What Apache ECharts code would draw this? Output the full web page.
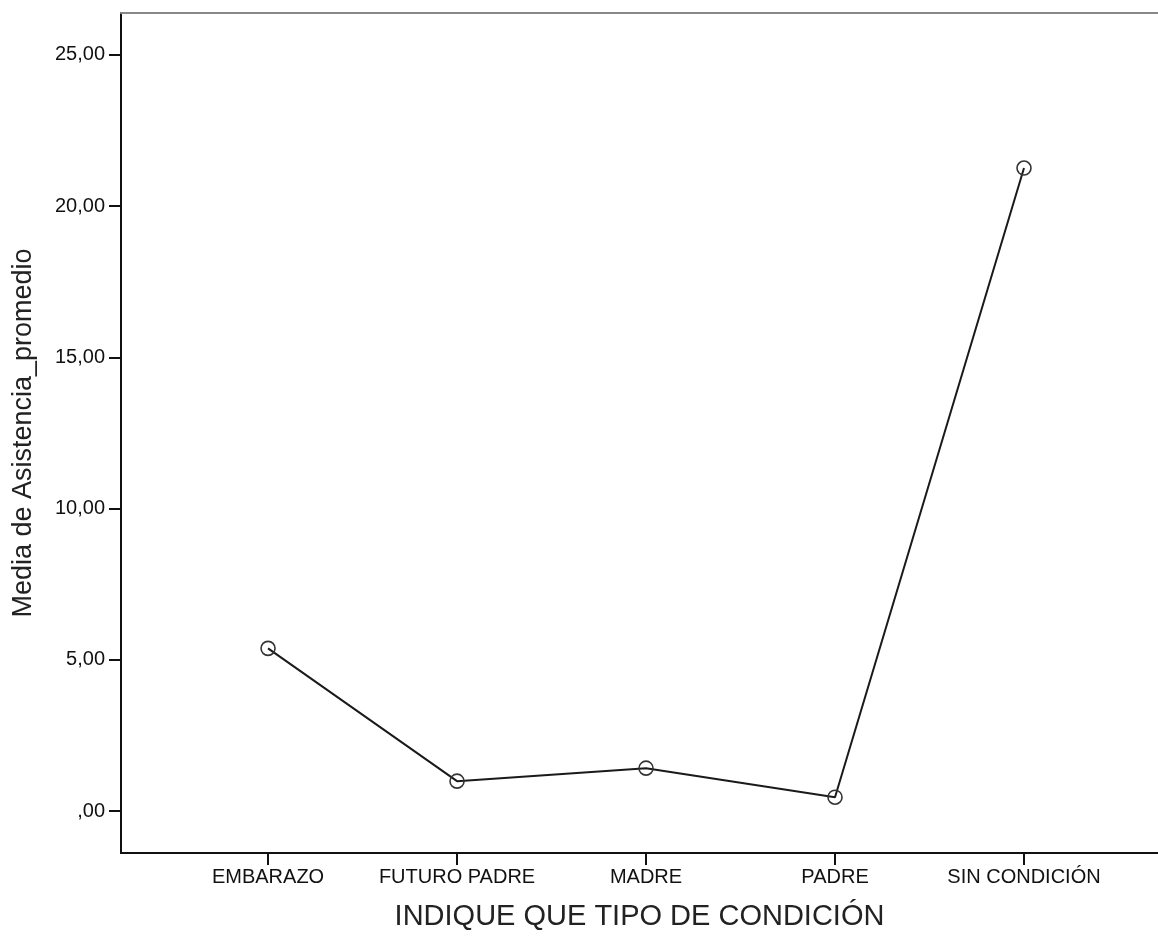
<!DOCTYPE html>
<html>
<head>
<meta charset="utf-8">
<script src="https://cdn.jsdelivr.net/npm/echarts@6/dist/echarts.min.js"></script>
<style>
html,body{margin:0;padding:0;background:#fff;}
#chart{width:1158px;height:936px;}
</style>
</head>
<body>
<div id="chart"></div>
<script>
const categories = ['EMBARAZO', 'FUTURO PADRE', 'MADRE', 'PADRE', 'SIN CONDICIÓN'];
const values = [5.38, 0.99, 1.42, 0.46, 21.26];
const yTicks = [0, 5, 10, 15, 20, 25];
const xTicks = [0, 1, 2, 3, 4];

const fmt = v => { let s = v.toFixed(2).replace('.', ','); if (s.startsWith('0,')) s = s.slice(1); return s; };
const FONT = 'Liberation Sans, Arial, sans-serif';

const chart = echarts.init(document.getElementById('chart'), null, {renderer: 'canvas'});
chart.setOption({
  animation: false,
  backgroundColor: '#ffffff',
  grid: {left: 121, right: 0, top: 13, bottom: 81, containLabel: false},
  xAxis: [{
    type: 'value', min: -0.778, max: 4.709, position: 'bottom',
    name: 'INDIQUE QUE TIPO DE CONDICIÓN', nameLocation: 'middle', nameGap: 49,
    nameTextStyle: {fontFamily: FONT, fontSize: 29, color: '#222'},
    axisLine: {show: true, onZero: false, lineStyle: {color: '#111', width: 2}},
    axisTick: {show: true, length: 12, inside: false, customValues: xTicks, lineStyle: {color: '#111', width: 2}},
    axisLabel: {customValues: xTicks, formatter: v => categories[Math.round(v)] || '', fontFamily: FONT, fontSize: 20, color: '#111', margin: 14},
    splitLine: {show: false}
  }, {
    type: 'value', min: -0.778, max: 4.709, position: 'top',
    axisLine: {show: true, onZero: false, lineStyle: {color: '#888', width: 2}},
    axisTick: {show: false}, axisLabel: {show: false}, splitLine: {show: false}
  }],
  yAxis: {
    type: 'value', min: -1.385, max: 26.385,
    name: 'Media de Asistencia_promedio', nameLocation: 'middle', nameGap: 84, nameRotate: 90,
    nameTextStyle: {fontFamily: FONT, fontSize: 27, color: '#222'},
    axisLine: {show: true, onZero: false, lineStyle: {color: '#111', width: 2}},
    axisTick: {show: true, length: 12, customValues: yTicks, lineStyle: {color: '#111', width: 2}},
    axisLabel: {customValues: yTicks, formatter: fmt, fontFamily: FONT, fontSize: 20, color: '#111', margin: 16},
    splitLine: {show: false}
  },
  series: [{
    type: 'line',
    data: values.map((v, i) => [i, v]),
    symbol: 'circle', symbolSize: 14,
    lineStyle: {color: '#1a1a1a', width: 2},
    itemStyle: {color: 'rgba(255,255,255,0)', borderColor: '#333', borderWidth: 1.6},
    z: 5
  }]
});
</script>
</body>
</html>
